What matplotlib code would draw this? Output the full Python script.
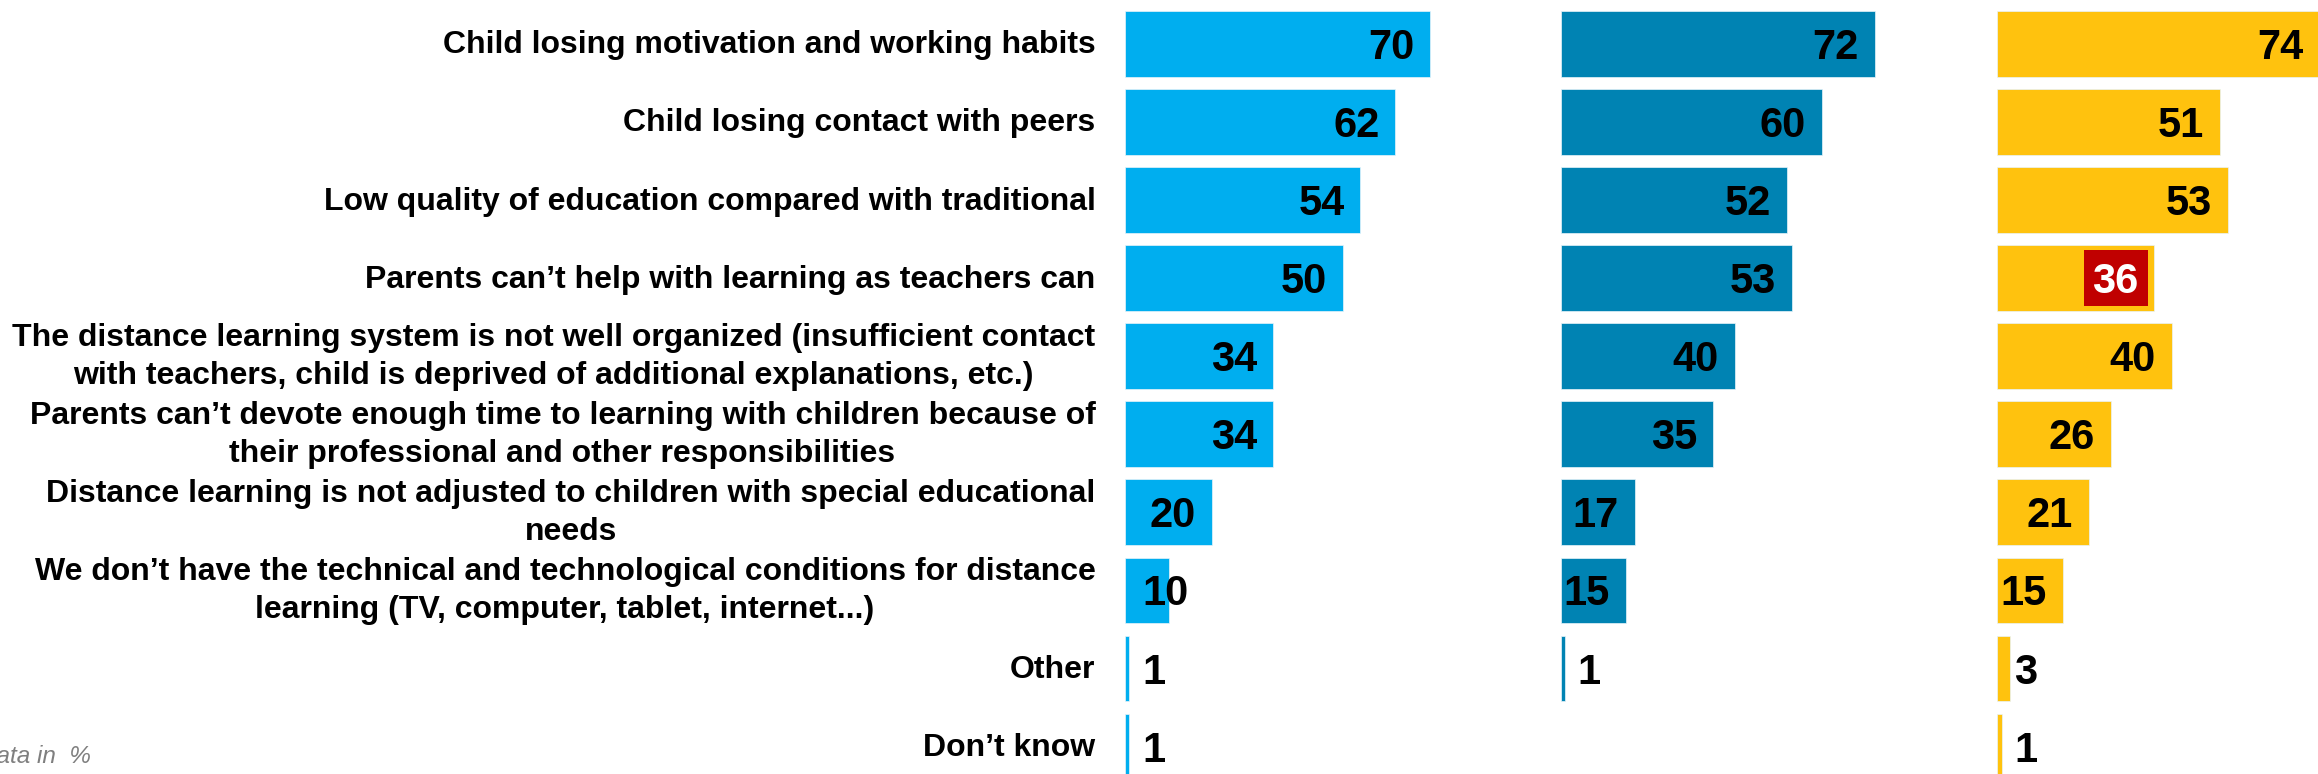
import matplotlib
matplotlib.use("Agg")
import matplotlib.pyplot as plt
from matplotlib.patches import Rectangle

# ---------------- data ----------------
categories = [
    "Child losing motivation and working habits",
    "Child losing contact with peers",
    "Low quality of education compared with traditional",
    "Parents can’t help with learning as teachers can",
    "The distance learning system is not well organized (insufficient contact\nwith teachers, child is deprived of additional explanations, etc.)",
    "Parents can’t devote enough time to learning with children because of\ntheir professional and other responsibilities",
    "Distance learning is not adjusted to children with special educational\nneeds",
    "We don’t have the technical and technological conditions for distance\nlearning (TV, computer, tablet, internet...)",
    "Other",
    "Don’t know",
]
series_1 = [70, 62, 54, 50, 34, 34, 20, 10, 1, 1]
series_2 = [72, 60, 52, 53, 40, 35, 17, 15, 1, None]
series_3 = [74, 51, 53, 36, 40, 26, 21, 15, 3, 1]
series = [series_1, series_2, series_3]
colors = ["#00AEEF", "#0083B3", "#FFC20E"]
highlight = (2, 3)          # (series index, row index) shown in a red box
highlight_color = "#C00000"
footnote = "Data in  %"

# ---------------- layout ----------------
W, H, DPI = 2318, 774, 100
ROW0, PITCH = 43.7, 78.1
PX_PER_UNIT = 4.36
BASES = [1125.0, 1560.6, 1997.2]
AX_W = 380.0

plt.rcParams["font.family"] = ["Liberation Sans", "DejaVu Sans"]
fig = plt.figure(figsize=(W / DPI, H / DPI), dpi=DPI)
renderer = fig.canvas.get_renderer()

y_top = -ROW0 / PITCH
y_bot = (H - ROW0) / PITCH

axes = []
for k, (base, vals, col) in enumerate(zip(BASES, series, colors)):
    ax = fig.add_axes([base / W, 0, AX_W / W, 1])
    ax.set_xlim(0, AX_W / PX_PER_UNIT)
    ax.set_ylim(y_bot, y_top)
    ax.axis("off")
    axes.append(ax)
    rows = [i for i, v in enumerate(vals) if v is not None]
    ax.barh(rows, [vals[i] for i in rows], height=0.84, color=col,
            edgecolor="#E8F4FA", linewidth=0.5)
    for i in rows:
        v = vals[i]
        boxed = (k, i) == highlight
        kw = dict(textcoords="offset pixels", va="baseline", fontsize=30,
                  fontweight="bold", color="white" if boxed else "black", zorder=5)
        t = ax.annotate(str(v), xy=(v, i), xytext=(-16, -15), ha="right", **kw)
        ext = t.get_window_extent(renderer)
        base_px = ax.transData.transform((0, i))[0]
        if ext.x0 < base_px:
            t.remove()
            t = ax.annotate(str(v), xy=(0, i), xytext=(17, -15), ha="left", **kw)
        if boxed:
            ext = t.get_window_extent(renderer)
            yc = ax.transData.transform((0, i))[1]
            rect = Rectangle((ext.x0 - 8, yc - 28.3), ext.width + 18, 56.6,
                             transform=None, facecolor=highlight_color,
                             edgecolor="none", zorder=4)
            ax.add_patch(rect)

ax1 = axes[0]
for i, lab in enumerate(categories):
    dy = -9.6 if "\n" not in lab else -28.0
    ax1.annotate(lab, xy=(0, i), xytext=(-29.6, dy), textcoords="offset pixels",
                 ha="right", va="baseline", multialignment="center",
                 fontsize=23, fontweight="bold", linespacing=1.35, color="black")

fig.text(91 / W, 11.3 / H, footnote, ha="right", va="baseline", fontsize=17.5,
         style="italic", color="#7F7F7F")

fig.savefig("out.png", dpi=DPI)
